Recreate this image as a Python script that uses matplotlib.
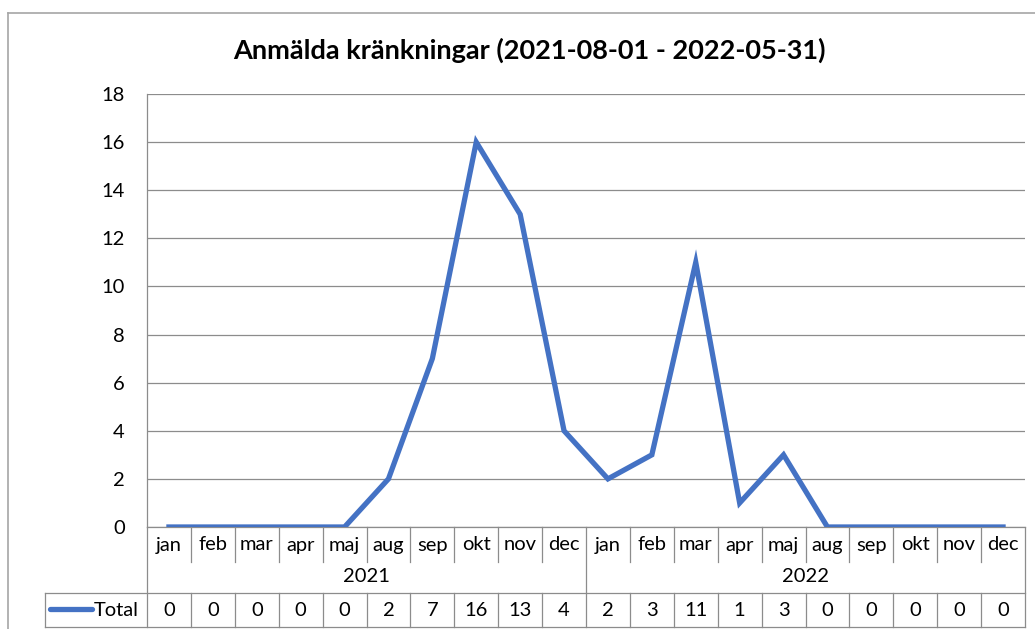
import matplotlib
matplotlib.use("Agg")
import matplotlib.pyplot as plt
from matplotlib.lines import Line2D

plt.rcParams["font.family"] = ["Lato", "DejaVu Sans"]

months = ["jan", "feb", "mar", "apr", "maj", "aug", "sep", "okt", "nov", "dec",
          "jan", "feb", "mar", "apr", "maj", "aug", "sep", "okt", "nov", "dec"]
years = ["2021", "2022"]
total = [0, 0, 0, 0, 0, 2, 7, 16, 13, 4,
         2, 3, 11, 1, 3, 0, 0, 0, 0, 0]
series_name = "Total"
title = "Anmälda kränkningar (2021-08-01 - 2022-05-31)"

W, H = 1035, 629
blue = "#4472C4"
grid = "#8C8C8C"
border = "#A6A6A6"
fs = 14.5

fig = plt.figure(figsize=(W / 100, H / 100), dpi=100)

# plot area in pixels
px0, px1, py0, py1 = 147, 1025, 94, 527
ax = fig.add_axes([px0 / W, 1 - py1 / H, (px1 - px0) / W, (py1 - py0) / H])

n = len(total)
xs = list(range(n))
ax.plot(xs, total, color=blue, lw=3.8, solid_joinstyle="miter", zorder=3)
ax.set_xlim(-0.5, n - 0.5)
ax.set_ylim(0, 18)
ax.set_yticks(range(0, 19, 2))
ax.yaxis.grid(True, color=grid, lw=0.9)
ax.set_axisbelow(True)
ax.set_xticks([])
ax.tick_params(axis="y", length=0, pad=16, labelsize=fs)
for s in ["top", "right"]:
    ax.spines[s].set_visible(False)
for s in ["left", "bottom"]:
    ax.spines[s].set_color(grid)
    ax.spines[s].set_linewidth(0.9)

fig.text(529 / W, 1 - 50 / H, title, ha="center", va="center",
         fontsize=19.5, fontweight="bold")


def fy(py):
    # pixel row -> axes fraction
    return (py1 - py) / (py1 - py0)


tr = ax.get_xaxis_transform()


def vline(x, ya, yb):
    ax.add_line(Line2D([x, x], [fy(ya), fy(yb)], transform=tr, color=grid,
                       lw=0.9, clip_on=False))


def hline(xa, xb, y):
    ax.add_line(Line2D([xa, xb], [fy(y), fy(y)], transform=tr, color=grid,
                       lw=0.9, clip_on=False))


# x-position of the table's left edge in data units
cw = (px1 - px0) / n
xleft = -0.5 - (px0 - 45) / cw

row_m, row_y, row_t0, row_t1 = 562, 593, 593, 627
for k in range(1, n):
    if k == n // 2:
        vline(k - 0.5, py1, row_y)
    else:
        vline(k - 0.5, py1, row_m)
    vline(k - 0.5, row_t0, row_t1)
vline(-0.5, py1, row_t1)
vline(n - 0.5, py1, row_t1)
vline(xleft, row_t0, row_t1)
hline(xleft, n - 0.5, row_t0)
hline(xleft, n - 0.5, row_t1)

for i, m in enumerate(months):
    ax.text(i, fy(545), m, transform=tr, ha="center", va="center", fontsize=fs)
    ax.text(i, fy(610), str(total[i]), transform=tr, ha="center",
            va="center", fontsize=fs)
for j, yr in enumerate(years):
    ax.text((n / 2) * j + (n / 2 - 1) / 2, fy(577), yr, transform=tr,
            ha="center", va="center", fontsize=fs)

# legend key inside the table
kx0 = xleft + (50 - 45) / cw
kx1 = xleft + (92 - 45) / cw
ax.add_line(Line2D([kx0, kx1], [fy(609), fy(609)], transform=tr, color=blue,
                   lw=3.8, clip_on=False, solid_capstyle="round"))
ax.text(kx1 + 0.05, fy(610), series_name, transform=tr, ha="left",
        va="center", fontsize=fs)

# outer chart border (right and bottom edges fall outside the image)
fig.add_artist(Line2D([8 / W, 8 / W], [0, 1 - 13 / H], color=border, lw=1.2))
fig.add_artist(Line2D([8 / W, 1], [1 - 13 / H, 1 - 13 / H], color=border,
                      lw=1.2))

fig.savefig("out.png", dpi=100)
